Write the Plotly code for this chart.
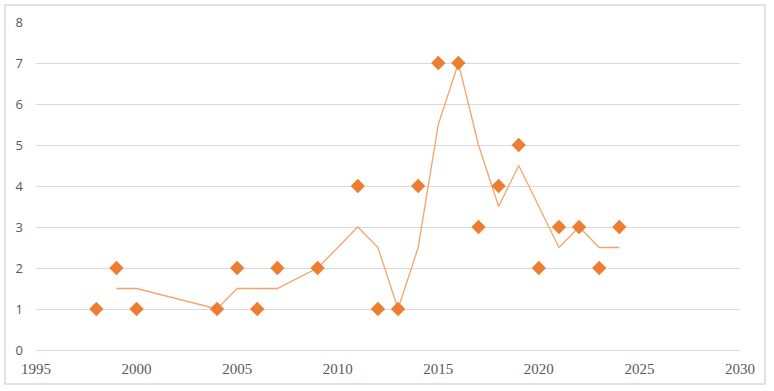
import plotly.graph_objects as go

years = [1998, 1999, 2000, 2004, 2005, 2006, 2007, 2009, 2011, 2012, 2013,
         2014, 2015, 2016, 2017, 2018, 2019, 2020, 2021, 2022, 2023, 2024]
counts = [1, 2, 1, 1, 2, 1, 2, 2, 4, 1, 1, 4, 7, 7, 3, 4, 5, 2, 3, 3, 2, 3]

trend_years = [1999, 2000, 2004, 2005, 2006, 2007, 2009, 2011, 2012, 2013,
               2014, 2015, 2016, 2017, 2018, 2019, 2020, 2021, 2022, 2023, 2024]
trend_vals = [1.5, 1.5, 1, 1.5, 1.5, 1.5, 2, 3, 2.5, 1, 2.5, 5.5, 7, 5, 3.5,
              4.5, 3.5, 2.5, 3, 2.5, 2.5]

x_ticks = [1995, 2000, 2005, 2010, 2015, 2020, 2025, 2030]
y_ticks = [0, 1, 2, 3, 4, 5, 6, 7, 8]

fig = go.Figure()
fig.add_trace(go.Scatter(x=trend_years, y=trend_vals, mode="lines",
                         line=dict(color="#F4A46C", width=1.3),
                         hoverinfo="skip", showlegend=False))
fig.add_trace(go.Scatter(x=years, y=counts, mode="markers",
                         marker=dict(symbol="diamond", size=11, color="#ED7D31",
                                     line=dict(width=0)),
                         showlegend=False))

fig.update_layout(
    width=774, height=391,
    margin=dict(l=36, r=34, t=22, b=41),
    paper_bgcolor="white", plot_bgcolor="white",
    xaxis=dict(range=[1995, 2030], tickvals=x_ticks, showgrid=False,
               zeroline=False, showline=False, ticks="",
               ticklabelstandoff=8,
               tickfont=dict(family="'Liberation Serif', 'DejaVu Serif', serif",
                             size=15, color="#595959")),
    yaxis=dict(range=[0, 8], tickvals=y_ticks, showgrid=True, gridcolor="#D9D9D9",
               gridwidth=1, zeroline=True, zerolinecolor="#D9D9D9", zerolinewidth=1,
               showline=False, ticks="",
               ticklabelstandoff=12,
               tickfont=dict(family="Open Sans", size=13, color="#595959")),
    shapes=[dict(type="rect", xref="paper", yref="paper",
                 x0=-0.044, x1=1.0355, y0=-0.1037, y1=1.052,
                 line=dict(color="#D9D9D9", width=1.5), layer="below")],
)

fig.write_html("out.html")
